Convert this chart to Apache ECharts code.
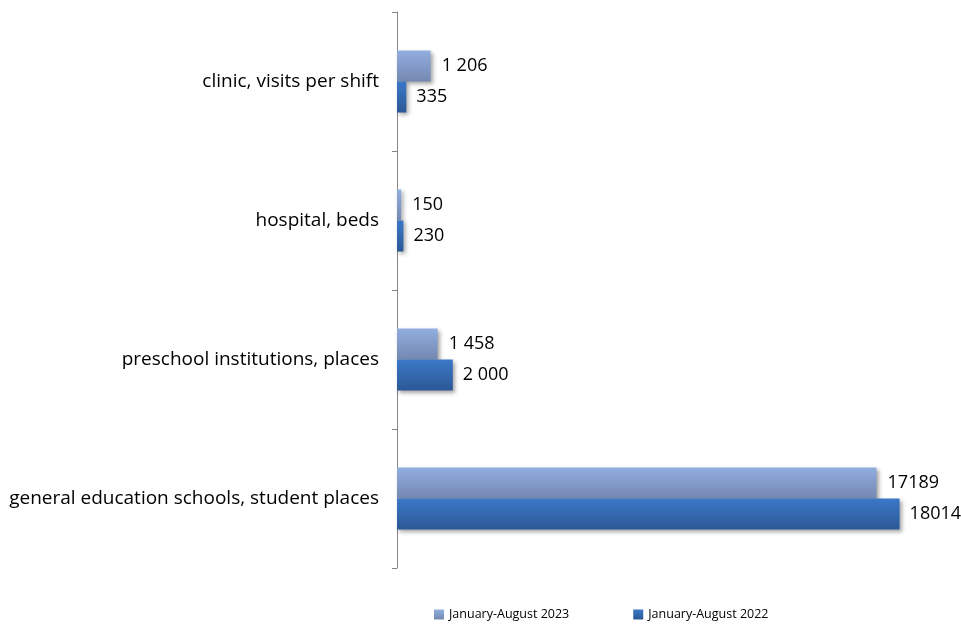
<!DOCTYPE html>
<html><head><meta charset="utf-8">
<script src="https://cdn.jsdelivr.net/npm/echarts@6/dist/echarts.min.js"></script>
<style>html,body{margin:0;padding:0;background:#fff}#c{width:961px;height:628px}</style>
</head><body><div id="c"></div>
<script>
var categories = ['general education schools, student places', 'preschool institutions, places', 'hospital, beds', 'clinic, visits per shift'];
var seriesNames = ['January-August 2023', 'January-August 2022'];
var values2023 = [17189, 1458, 150, 1206];
var values2022 = [18014, 2000, 230, 335];
var labels2023 = ['17189', '1 458', '150', '1 206'];
var labels2022 = ['18014', '2 000', '230', '335'];

var chart = echarts.init(document.getElementById('c'));
var font = 'Open Sans';
function grad(a, b) {
  return new echarts.graphic.LinearGradient(0, 0, 0, 1, [{offset: 0, color: a}, {offset: 1, color: b}]);
}
chart.setOption({
  animation: false,
  textStyle: {fontFamily: font},
  grid: {left: 397, right: 6, top: 12, bottom: 60},
  legend: {
    data: [seriesNames[0], seriesNames[1]],
    bottom: 2, left: 429, itemWidth: 10, itemHeight: 10, itemGap: 64, icon: 'rect',
    textStyle: {fontSize: 12.5, color: '#000', fontFamily: font}
  },
  xAxis: {type: 'value', min: 0, max: 20000, show: false},
  yAxis: {
    type: 'category', data: categories,
    axisLine: {lineStyle: {color: '#868686', width: 1}},
    axisTick: {show: true, length: 5, lineStyle: {color: '#868686'}},
    axisLabel: {fontSize: 19, color: '#000', margin: 18, fontFamily: font}
  },
  series: [
    {
      name: seriesNames[0], type: 'bar', data: values2023, barWidth: 31, barGap: '0%',
      itemStyle: {color: grad('#91aee0', '#7488b0'), shadowBlur: 4, shadowOffsetX: 2, shadowOffsetY: 2, shadowColor: 'rgba(0,0,0,0.35)'},
      label: {show: true, position: 'right', distance: 11, fontSize: 18, color: '#000',
        formatter: function (p) { return labels2023[p.dataIndex]; }}
    },
    {
      name: seriesNames[1], type: 'bar', data: values2022, barWidth: 31, barGap: '0%',
      itemStyle: {color: grad('#3b78c8', '#2b5896'), shadowBlur: 4, shadowOffsetX: 2, shadowOffsetY: 2, shadowColor: 'rgba(0,0,0,0.35)'},
      label: {show: true, position: 'right', distance: 10, fontSize: 18, color: '#000',
        formatter: function (p) { return labels2022[p.dataIndex]; }}
    }
  ]
});
</script></body></html>
